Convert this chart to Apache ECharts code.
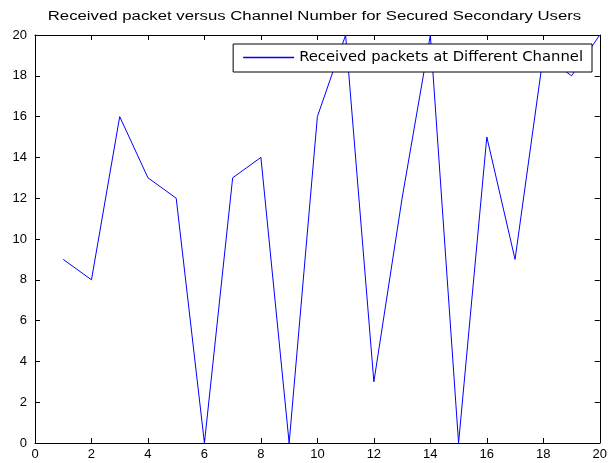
<!DOCTYPE html>
<html><head><meta charset="utf-8">
<script src="https://cdn.jsdelivr.net/npm/echarts@6/dist/echarts.min.js"></script>
<style>html,body{margin:0;padding:0;background:#fff}#c{width:610px;height:463px}</style>
</head><body><div id="c"></div>
<script>
const channels = [1,2,3,4,5,6,7,8,9,10,11,12,13,14,15,16,17,18,19,20];
const received = [9,8,16,13,12,0,13,14,0,16,20,3,12,20,0,15,9,19,18,20];
const xTicks = [0,2,4,6,8,10,12,14,16,18,20];
const yTicks = [0,2,4,6,8,10,12,14,16,18,20];
const titleText = 'Received packet versus Channel Number for Secured Secondary Users';
const seriesName = 'Received packets at Different Channel';

const font = 'Liberation Sans, Arial, sans-serif';
const chart = echarts.init(document.getElementById('c'));
const axisCommon = {
  type: 'value', min: 0, max: 20, interval: 2,
  axisLine: {show: true, onZero: false, lineStyle: {color: '#000', width: 1}},
  axisTick: {show: true, inside: true, length: 5, lineStyle: {color: '#000'}},
  splitLine: {show: false}
};
chart.setOption({
  backgroundColor: '#fff',
  animation: false,
  graphic: [{
    type: 'text', x: 314.5, y: 17, scaleX: 1.34, z: 10,
    style: {text: titleText, x: 0, y: 0, textAlign: 'center', textVerticalAlign: 'middle',
      font: '12.5px Liberation Sans, Arial, sans-serif', fill: '#000'}
  }],
  legend: {
    data: [seriesName], right: 18, top: 44, orient: 'vertical',
    backgroundColor: '#fff', borderColor: '#000', borderWidth: 1,
    padding: [6, 9, 7, 10], itemWidth: 51, itemHeight: 2, itemGap: 0,
    icon: 'path://M0,0 L40,0 L40,1 L0,1 Z',
    textStyle: {fontFamily: 'DejaVu Sans, sans-serif', fontSize: 14.8, color: '#000'}
  },
  grid: {left: 35, right: 10, top: 35, bottom: 20},
  xAxis: [
    Object.assign({}, axisCommon, {position: 'bottom',
      axisLabel: {fontFamily: font, fontSize: 13, color: '#000', margin: 5,
        formatter: v => xTicks.includes(v) ? String(v) : ''}}),
    Object.assign({}, axisCommon, {position: 'top', axisLabel: {show: false}})
  ],
  yAxis: [
    Object.assign({}, axisCommon, {position: 'left',
      axisLabel: {fontFamily: font, fontSize: 13, color: '#000', margin: 8,
        formatter: v => yTicks.includes(v) ? String(v) : ''}}),
    Object.assign({}, axisCommon, {position: 'right', axisLabel: {show: false}})
  ],
  series: [{
    name: seriesName, type: 'line', xAxisIndex: 0, yAxisIndex: 0,
    data: channels.map((c, i) => [c, received[i]]),
    showSymbol: false, symbol: 'none',
    lineStyle: {color: '#0000ff', width: 1}, itemStyle: {color: '#0000ff'},
    clip: true
  }]
});
</script></body></html>
